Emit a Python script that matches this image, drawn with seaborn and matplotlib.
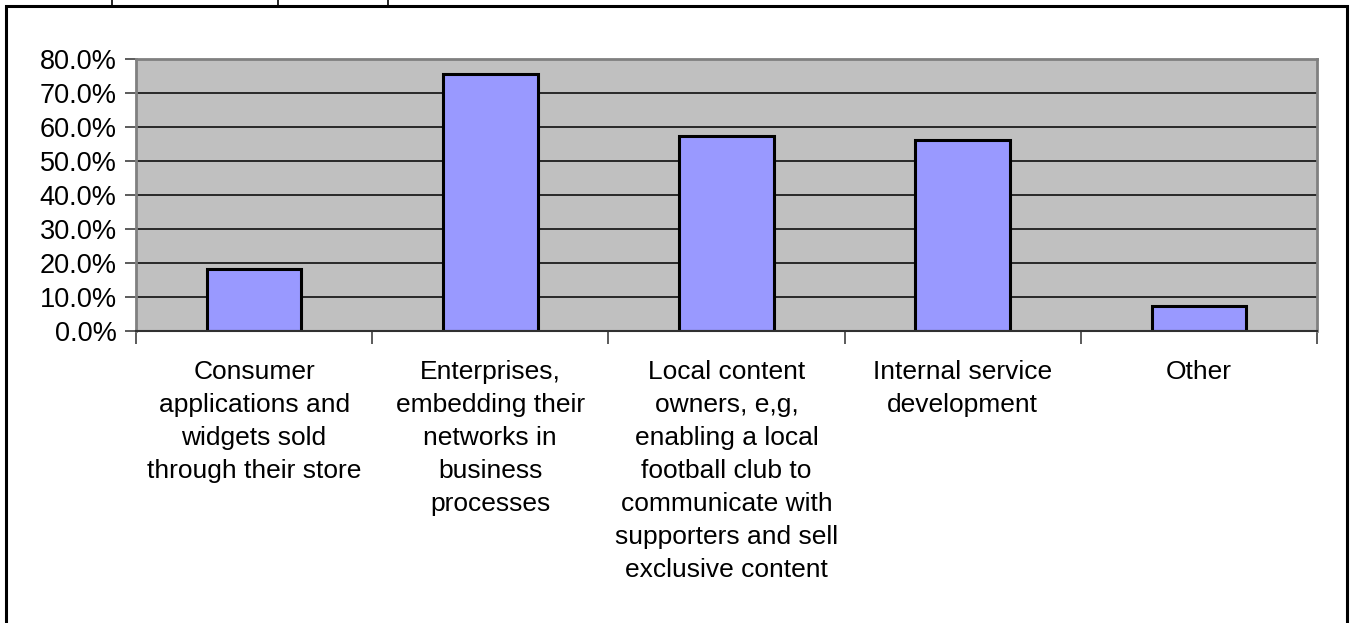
import matplotlib
matplotlib.use("Agg")
import matplotlib.pyplot as plt
from matplotlib.lines import Line2D
from matplotlib.patches import Rectangle
from matplotlib.ticker import FixedLocator, FuncFormatter
import seaborn as sns
import pandas as pd

categories = [
    "Consumer\napplications and\nwidgets sold\nthrough their store",
    "Enterprises,\nembedding their\nnetworks in\nbusiness\nprocesses",
    "Local content\nowners, e,g,\nenabling a local\nfootball club to\ncommunicate with\nsupporters and sell\nexclusive content",
    "Internal service\ndevelopment",
    "Other",
]
shares = [18.1, 75.5, 57.3, 56.2, 7.4]
y_ticks = [0, 10, 20, 30, 40, 50, 60, 70, 80]

sns.set_style("white")
plt.rcParams["font.family"] = ["Liberation Sans", "DejaVu Sans"]

df = pd.DataFrame({"category": categories, "share": shares})

fig = plt.figure(figsize=(13.51, 6.23), dpi=100)
ax = fig.add_axes([136 / 1351, 1 - 331 / 623, (1317 - 136) / 1351, (331 - 59) / 623])
ax.set_facecolor("#C0C0C0")

# horizontal gridlines at each y tick
for v in y_ticks[1:-1]:
    ax.axhline(v, color="black", lw=1.1, zorder=0.5)

sns.barplot(data=df, x="category", y="share", color="#9999FF", saturation=1,
            edgecolor="black", linewidth=2.2, width=0.40, ax=ax, zorder=2)

ax.set_xlim(-0.5, len(categories) - 0.5)
ax.set_ylim(0, 80)
ax.set_xlabel("")
ax.set_ylabel("")

ax.yaxis.set_major_locator(FixedLocator(y_ticks))
ax.yaxis.set_major_formatter(FuncFormatter(lambda v, _: f"{v:.1f}%"))
ax.tick_params(axis="y", which="major", left=True, length=8, width=1.2,
               color="#404040", pad=6, labelsize=19.5, labelcolor="black")

# labels centred under the bars, tick marks on the category boundaries
ax.set_xticks(range(len(categories)))
ax.set_xticklabels(categories, linespacing=1.47)
ax.tick_params(axis="x", which="major", length=0, pad=21, labelsize=19,
               labelcolor="black")
ax.xaxis.set_minor_locator(FixedLocator([i - 0.5 for i in range(len(categories) + 1)]))
ax.tick_params(axis="x", which="minor", bottom=True, length=9, width=1.2,
               color="#404040")
for lab in ax.get_xticklabels():
    lab.set_verticalalignment("top")
    lab.set_horizontalalignment("center")
    lab.set_multialignment("center")

for side in ["top", "right", "left"]:
    ax.spines[side].set_visible(True)
    ax.spines[side].set_color("#808080")
    ax.spines[side].set_linewidth(2)
ax.spines["bottom"].set_color("#303030")
ax.spines["bottom"].set_linewidth(1.5)

# outer chart frame, open at the bottom
fig.add_artist(Rectangle((6 / 1351, -0.05), (1347 - 6) / 1351, 1.05 - 5.5 / 623,
                         transform=fig.transFigure, fill=False,
                         edgecolor="black", lw=2.2))
# table rules from the surrounding page
for xp in [112, 278, 388]:
    fig.add_artist(Line2D([xp / 1351, xp / 1351], [1 - 5 / 623, 1.0],
                          transform=fig.transFigure, color="black", lw=1.2))

fig.savefig("out.png", dpi=100, facecolor="white")
